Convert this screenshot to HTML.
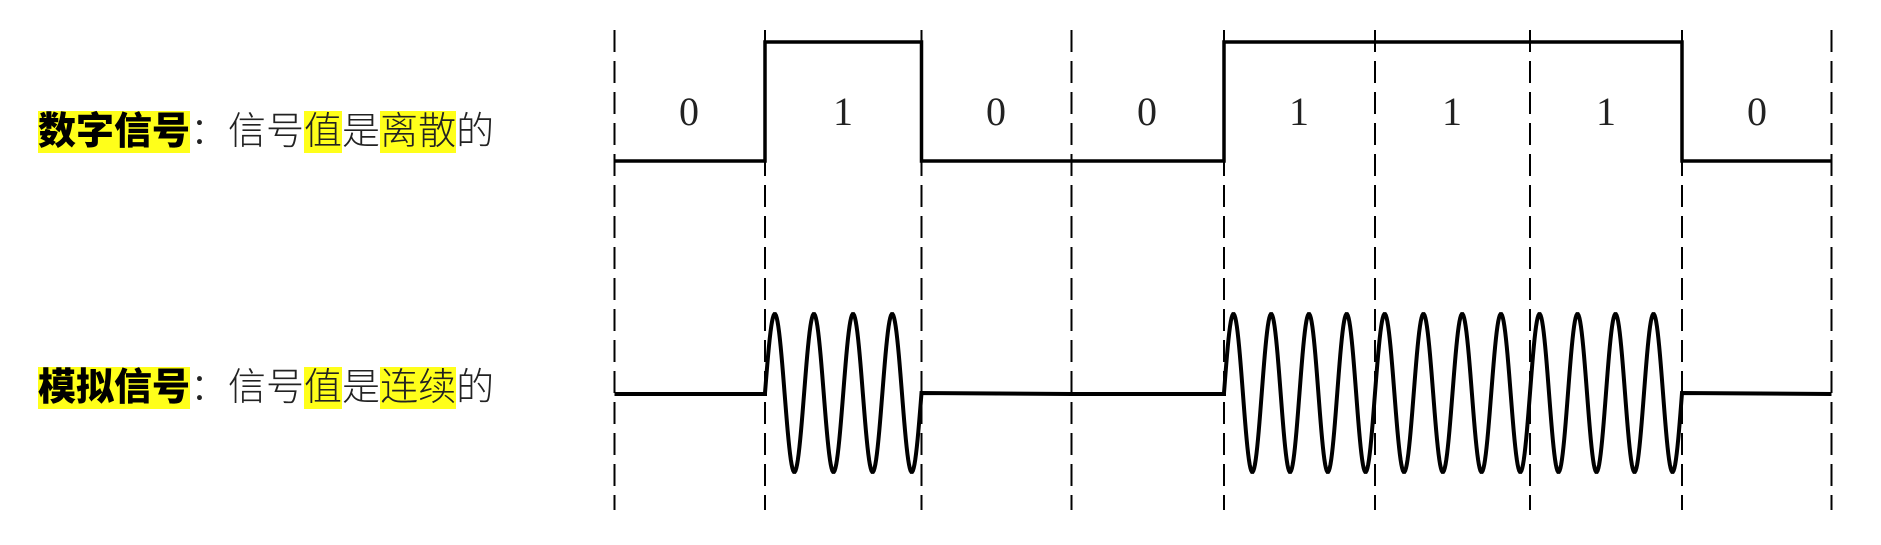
<!DOCTYPE html>
<html><head><meta charset="utf-8"><style>
html,body{margin:0;padding:0;background:#fff;width:1881px;height:545px;overflow:hidden;position:relative}
.t{position:absolute;left:38px;font-family:"Liberation Sans","Noto Sans CJK SC",sans-serif;font-size:38px;line-height:52px;white-space:nowrap;color:#222}
.t b{font-weight:900;color:#000}
.h{background:#ffff1a}
.n{font-weight:300}
svg{position:absolute;left:0;top:0}
</style></head><body>
<div class="t" style="top:106px"><b class="h">数字信号</b><span class="n">：信号<span class="h">值</span>是<span class="h">离散</span>的</span></div>
<div class="t" style="top:362px"><b class="h">模拟信号</b><span class="n">：信号<span class="h">值</span>是<span class="h">连续</span>的</span></div>
<svg id="s" width="1881" height="545" xmlns="http://www.w3.org/2000/svg">
<g stroke="#000" stroke-width="2" stroke-dasharray="22,9">
<line x1="614.5" y1="30" x2="614.5" y2="510"/><line x1="765" y1="30" x2="765" y2="510"/>
<line x1="921.5" y1="30" x2="921.5" y2="510"/><line x1="1071.5" y1="30" x2="1071.5" y2="510"/>
<line x1="1224" y1="30" x2="1224" y2="510"/><line x1="1375" y1="30" x2="1375" y2="510"/>
<line x1="1530" y1="30" x2="1530" y2="510"/><line x1="1682" y1="30" x2="1682" y2="510"/>
<line x1="1831.5" y1="30" x2="1831.5" y2="510"/>
</g>
<path d="M614.5 161 H765 V42 H921.5 V161 H1224 V42 H1682 V161 H1831.5" fill="none" stroke="#000" stroke-width="3.5"/>
<g font-family="Liberation Serif,serif" font-size="40" text-anchor="middle" fill="#222">
<text x="689" y="125">0</text><text x="843" y="125">1</text><text x="996" y="125">0</text>
<text x="1147" y="125">0</text><text x="1299" y="125">1</text><text x="1452" y="125">1</text>
<text x="1606" y="125">1</text><text x="1757" y="125">0</text>
</g>
<path id="a" fill="none" stroke="#000" stroke-width="4"/>
</svg>
<script>
var b=[614.5,765,921.5,1071.5,1224,1375,1530,1682,1831.5],bits=[0,1,0,0,1,1,1,0];
var d="M614.5 394";
for(var i=0;i<8;i++){var x0=b[i],x1=b[i+1];
 if(!bits[i]){d+=" L"+x1+" 394";continue;}
 for(var k=0;k<=200;k++){var x=x0+(x1-x0)*k/200;var y=393-79*Math.sin(2*Math.PI*4*k/200);d+=" L"+x.toFixed(2)+" "+y.toFixed(2);}
}
document.getElementById("a").setAttribute("d",d);
</script>
</body></html>
